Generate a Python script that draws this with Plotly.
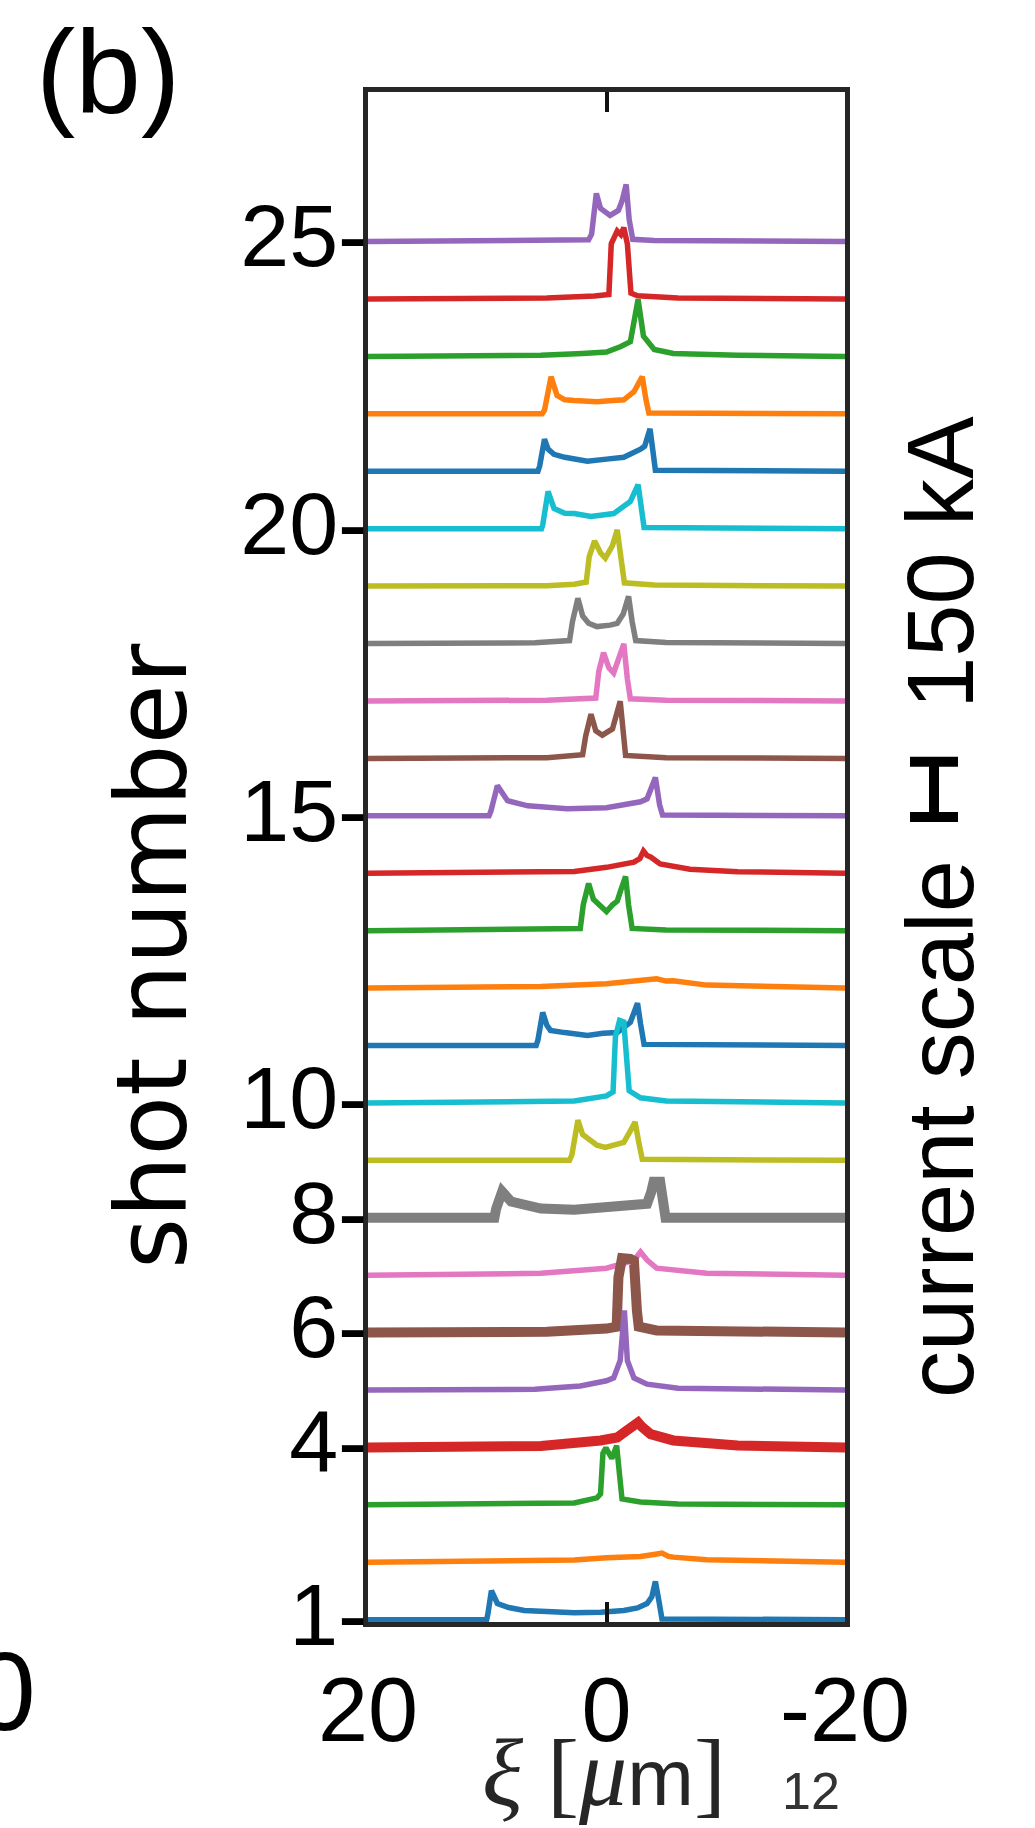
import plotly.graph_objects as go

# ---------------------------------------------------------------------------
# Longitudinal current profiles per shot: xi [um] and current [kA]
# ---------------------------------------------------------------------------
shot_numbers = [1, 2, 3, 4, 5, 6, 7, 8, 9, 10, 11, 12, 13,
                14, 15, 16, 17, 18, 19, 20, 21, 22, 23, 24, 25]

xi_s1 = [20, 10.05, 9.95, 9.65, 9.15, 8.2, 6.9, 4.5, 2.7, 0.5, -1.45, -2.6, -3.4, -3.8, -4.1, -4.4, -4.65, -20]
ka_s1 = [0, 0, 15, 79, 44, 33, 25, 21, 19, 20, 25, 32, 44, 62, 104, 50, 2, 0]

xi_s2 = [20, 10, 5, 2.7, 0, -2.85, -4.1, -4.65, -5.2, -5.6, -8.4, -13, -20]
ka_s2 = [0, 2, 4, 6, 12, 16, 22, 25, 16, 14, 7, 3, 0]

xi_s3 = [20, 5, 2.7, 0.8, 0.5, 0.3, 0.05, -0.45, -0.85, -1.1, -1.3, -2.85, -6, -20]
ka_s3 = [0, 2, 5, 19, 30, 140, 155, 126, 161, 80, 16, 8, 2, 0]

xi_s4 = [20, 5.5, 0.5, -0.9, -1.7, -2.65, -3.0, -3.7, -5.6, -11, -20]
ka_s4 = [0, 4, 19, 27, 46, 68, 55, 36, 19, 5, 0]

xi_s5 = [20, 6, 2.2, 0, -0.6, -1.15, -1.5, -1.75, -2.3, -3.4, -6, -20]
ka_s5 = [0, 2, 11, 25, 33, 80, 216, 80, 33, 16, 5, 0]

xi_s6 = [20, 5, 0, -0.85, -1.0, -1.3, -2.0, -2.3, -2.55, -2.7, -4.2, -20]
ka_s6 = [0, 2, 11, 16, 150, 202, 200, 195, 60, 16, 6, 0]

xi_s7 = [20, 5.5, 0, -2.0, -2.3, -2.85, -3.2, -3.4, -4.2, -8.4, -20]
ka_s7 = [0, 5, 19, 36, 40, 63, 48, 41, 19, 5, 0]

xi_s8 = [20, 9.4, 9.25, 8.75, 8.0, 5.5, 2.7, -1.45, -3.4, -3.75, -3.95, -4.5, -4.7, -4.95, -20]
ka_s8 = [0, 0, 25, 71, 44, 25, 22, 30, 38, 70, 98, 98, 40, 0, 0]

xi_s9 = [20, 3.1, 2.9, 2.4, 2.0, 1.6, 0.8, 0.1, -0.8, -1.45, -2.0, -2.4, -2.7, -3.0, -20]
ka_s9 = [0, 0, 15, 109, 70, 60, 41, 35, 44, 49, 80, 104, 50, 3, 0]

xi_s10 = [20, 5, 2.7, 0.0, -0.55, -0.75, -1.1, -1.45, -1.7, -1.9, -2.85, -5, -20]
ka_s10 = [0, 2, 5, 19, 30, 180, 224, 220, 100, 33, 14, 5, 0]

xi_s11 = [20, 5.9, 5.75, 5.35, 5.0, 4.7, 3.5, 2.7, 1.6, 0.3, -0.9, -2.0, -2.6, -2.85, -3.15, -20]
ka_s11 = [0, 0, 15, 90, 55, 41, 35, 33, 27, 33, 35, 63, 115, 60, 3, 0]

xi_s12 = [20, 10, 5.5, 0, -2.8, -3.5, -4.2, -5.0, -5.6, -8.4, -14, -20]
ka_s12 = [0, 2, 4, 12, 19, 22, 25, 19, 20, 8, 3, 0]

xi_s13 = [20, 5, 2.2, 1.95, 1.5, 1.1, 0.0, -0.5, -0.9, -1.2, -1.6, -1.85, -2.15, -5, -20]
ka_s13 = [0, 2, 6, 70, 128, 85, 52, 70, 80, 110, 147, 70, 6, 2, 0]

xi_s14 = [20, 8, 2.7, 0, -2.3, -2.8, -3.1, -3.4, -3.7, -4.5, -7, -11, -20]
ka_s14 = [0, 2, 5, 16, 30, 40, 60, 48, 44, 25, 11, 4, 0]

xi_s15 = [20, 9.85, 9.7, 9.15, 8.3, 6.6, 3.3, 0, -2.85, -3.4, -4.1, -4.45, -4.7, -20]
ka_s15 = [0, 0, 12, 82, 41, 27, 19, 22, 38, 46, 104, 30, 2, 0]

xi_s16 = [20, 5, 2.0, 1.75, 1.3, 0.9, 0.35, -0.5, -1.15, -1.4, -1.6, -5, -20]
ka_s16 = [0, 2, 10, 60, 120, 75, 63, 80, 155, 80, 8, 2, 0]

xi_s17 = [20, 5, 0.9, 0.65, 0.25, -0.2, -0.6, -1.0, -1.45, -1.75, -2.0, -5, -20]
ka_s17 = [0, 2, 8, 80, 131, 90, 76, 110, 155, 60, 6, 2, 0]

xi_s18 = [20, 6, 3.1, 2.85, 2.4, 2.0, 1.5, 0.8, -0.3, -0.9, -1.4, -1.85, -2.15, -2.45, -5, -20]
ka_s18 = [0, 2, 8, 60, 123, 75, 55, 46, 50, 55, 80, 128, 60, 8, 3, 0]

xi_s19 = [20, 5, 2.7, 1.7, 1.45, 1.0, 0.5, 0.1, -0.5, -0.9, -1.2, -1.5, -4, -20]
ka_s19 = [0, 1, 5, 11, 80, 123, 90, 76, 110, 153, 80, 9, 3, 0]

xi_s20 = [20, 5.45, 5.35, 4.9, 4.4, 3.5, 2.7, 1.3, -0.6, -2.0, -2.65, -2.9, -3.15, -20]
ka_s20 = [0, 0, 10, 101, 55, 42, 41, 33, 41, 74, 120, 60, 3, 0]

xi_s21 = [20, 5.75, 5.6, 5.2, 4.9, 4.4, 3.5, 2.7, 1.6, 0, -1.45, -2.85, -3.2, -3.65, -3.9, -4.1, -20]
ka_s21 = [0, 0, 15, 87, 60, 46, 38, 33, 27, 33, 38, 60, 68, 115, 50, 3, 0]

xi_s22 = [20, 5.4, 5.2, 4.65, 4.15, 3.5, 2.7, 0.8, -0.5, -1.45, -2.3, -3.0, -3.3, -3.55, -20]
ka_s22 = [0, 0, 10, 101, 50, 38, 36, 33, 36, 38, 60, 101, 40, 2, 0]

xi_s23 = [20, 10, 5.5, 2, 0, -1.2, -2.0, -2.65, -3.1, -4.0, -5.6, -11, -20]
ka_s23 = [0, 1, 3, 8, 12, 27, 40, 155, 55, 19, 8, 3, 0]

xi_s24 = [20, 5, 1, -0.2, -0.4, -0.9, -1.2, -1.45, -1.75, -2.05, -2.6, -6, -20]
ka_s24 = [0, 3, 8, 12, 150, 185, 175, 194, 150, 16, 9, 3, 0]

xi_s25 = [20, 5, 1.5, 1.25, 0.85, 0.5, -0.3, -1.0, -1.3, -1.65, -1.9, -2.2, -4, -20]
ka_s25 = [0, 3, 5, 20, 131, 90, 71, 85, 110, 155, 60, 6, 3, 0]

profiles_xi = [xi_s1, xi_s2, xi_s3, xi_s4, xi_s5, xi_s6, xi_s7, xi_s8, xi_s9,
               xi_s10, xi_s11, xi_s12, xi_s13, xi_s14, xi_s15, xi_s16, xi_s17,
               xi_s18, xi_s19, xi_s20, xi_s21, xi_s22, xi_s23, xi_s24, xi_s25]
profiles_ka = [ka_s1, ka_s2, ka_s3, ka_s4, ka_s5, ka_s6, ka_s7, ka_s8, ka_s9,
               ka_s10, ka_s11, ka_s12, ka_s13, ka_s14, ka_s15, ka_s16, ka_s17,
               ka_s18, ka_s19, ka_s20, ka_s21, ka_s22, ka_s23, ka_s24, ka_s25]

ytick_vals = [1, 4, 6, 8, 10, 15, 20, 25]
xtick_vals = [20, 0, -20]
xtick_text = ["20", "0", "-20"]

# current that corresponds to one unit of shot spacing, and the scale bar size
KA_PER_SHOT = 156.0
SCALE_BAR_KA = 150.0
SCALE_BAR_BASE = 14.98

palette = ["#1f77b4", "#ff7f0e", "#2ca02c", "#d62728", "#9467bd",
           "#8c564b", "#e377c2", "#7f7f7f", "#bcbd22", "#17becf"]
thick_shots = [4, 6, 8]

# ---------------------------------------------------------------------------
W, H = 1035, 1828
PL, PR, PT, PB = 368, 845, 92, 1622   # plot area in pixels


def px(x):
    return (x - PL) / (PR - PL)


def py(y):
    return (PB - y) / (PB - PT)


fig = go.Figure()

# lower shot numbers are drawn last so they sit on top
for idx in range(len(shot_numbers) - 1, -1, -1):
    shot = shot_numbers[idx]
    fig.add_trace(go.Scatter(
        x=profiles_xi[idx],
        y=[shot + c / KA_PER_SHOT for c in profiles_ka[idx]],
        mode="lines",
        line=dict(color=palette[idx % len(palette)],
                  width=10 if shot in thick_shots else 5.5),
        hoverinfo="skip",
        showlegend=False,
    ))

AX_COL = "#262626"
TXT = "Liberation Sans, Arial, Helvetica, sans-serif"

fig.update_layout(
    width=W, height=H, autosize=False,
    margin=dict(l=PL, r=W - PR, t=PT, b=H - PB, pad=0),
    paper_bgcolor="white", plot_bgcolor="white",
    font=dict(family=TXT, color="black"),
    showlegend=False,
    xaxis=dict(
        range=[20, -20], tickvals=xtick_vals, ticktext=xtick_text,
        ticks="inside", ticklen=20, tickwidth=4, tickcolor="#111111",
        showline=True, linewidth=5, linecolor=AX_COL, mirror="ticks",
        showgrid=False, zeroline=False,
        tickfont=dict(size=90, color="black", family=TXT),
        ticklabelstandoff=6,
    ),
    yaxis=dict(
        range=[0.96, 27.605], tickvals=ytick_vals,
        ticktext=[f"{v}-" for v in ytick_vals],
        ticks="", showline=True, linewidth=5, linecolor=AX_COL, mirror=True,
        showgrid=False, zeroline=False,
        tickfont=dict(size=88, color="black", family=TXT),
        ticklabelstandoff=-22, ticklabelshift=-6,
    ),
)

# current scale bar (I-beam) spanning SCALE_BAR_KA
bar_top = SCALE_BAR_BASE + SCALE_BAR_KA / KA_PER_SHOT
bar_x0, bar_x1 = px(910), px(958)
bar_xc = (bar_x0 + bar_x1) / 2
for y0, y1, x0, x1 in [(SCALE_BAR_BASE, bar_top, bar_xc, bar_xc),
                       (SCALE_BAR_BASE, SCALE_BAR_BASE, bar_x0, bar_x1),
                       (bar_top, bar_top, bar_x0, bar_x1)]:
    fig.add_shape(type="line", xref="paper", yref="y",
                  x0=x0, x1=x1, y0=y0, y1=y1,
                  line=dict(color="black", width=10))

SERIF_SPAN = '<span style="font-family:Liberation Serif;font-size:96px">'
xlabel = (SERIF_SPAN + '<i>ξ</i> [</span>'
          + SERIF_SPAN + '<i>μ</i></span>m'
          + SERIF_SPAN + ']</span>')

annotations = [
    dict(text="(b)", x=px(108), y=py(72), size=118, color="black", family=TXT),
    dict(text="shot number", x=px(152), y=py(956), textangle=-90,
         size=98, color="black", family="DejaVu Sans, " + TXT),
    dict(text="current scale", x=px(940), y=py(1129), textangle=-90,
         size=94, color="black", family=TXT),
    dict(text="150 kA", x=px(940), y=py(563), textangle=-90,
         size=94, color="black", family=TXT),
    dict(text=xlabel, x=px(604), y=py(1772), size=80, color=AX_COL,
         family=TXT),
    dict(text="12", x=px(811), y=py(1791), size=52, color="#333333",
         family=TXT),
    dict(text="0", x=px(37), y=py(1692), xanchor="right", size=111,
         color="black", family=TXT),
]
for a in annotations:
    a = dict(a)
    size = a.pop("size")
    color = a.pop("color")
    family = a.pop("family")
    base = dict(xref="paper", yref="paper", showarrow=False, borderpad=0,
                xanchor="center", yanchor="middle",
                font=dict(family=family, size=size, color=color))
    base.update(a)
    fig.add_annotation(**base)

fig.write_html("out.html")
